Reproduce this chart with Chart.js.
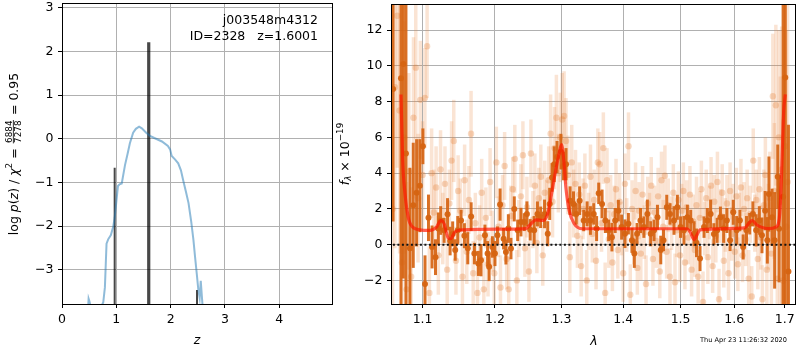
<!DOCTYPE html>
<html><head><meta charset="utf-8">
<script src="https://cdn.jsdelivr.net/npm/chart.js@4.4.0/dist/chart.umd.min.js"></script>
<style>
html,body{margin:0;padding:0;background:#fff;}
#wrap{position:relative;width:800px;height:350px;overflow:hidden;background:#fff;}
canvas{position:absolute;left:0;top:0;}
</style></head><body>
<div id="wrap"><canvas id="cL" width="800" height="350"></canvas><canvas id="cR" width="800" height="350"></canvas></div>
<script>
// ---------- Left panel: redshift PDF ----------
const zTicks = [0, 1, 2, 3, 4];
const logpTicks = [-3, -2, -1, 0, 1, 2, 3];
const pzZ = [0.40,0.475,0.49,0.505,0.52,0.54,0.70,0.73,0.76,0.79,0.805,0.82,0.85,0.90,0.945,0.97,1.00,1.03,1.06,1.10,1.16,1.21,1.25,1.31,1.36,1.42,1.47,1.55,1.62,1.70,1.84,1.95,1.99,2.02,2.08,2.14,2.19,2.23,2.28,2.33,2.38,2.42,2.45,2.48,2.51,2.535,2.555,2.575,2.59,2.62];
const pzLogP = [-5,-4.0,-3.66,-3.72,-3.80,-5,-5,-3.82,-3.74,-3.4,-2.9,-2.4,-2.3,-2.2,-2.0,-1.8,-1.45,-1.08,-1.04,-1.02,-0.6,-0.33,-0.1,0.14,0.23,0.28,0.24,0.14,0.07,0.02,-0.06,-0.16,-0.24,-0.39,-0.47,-0.56,-0.72,-0.94,-1.2,-1.47,-1.9,-2.31,-2.7,-3.07,-3.45,-3.64,-3.25,-3.6,-3.85,-5];
const spikeZ = [0.97, 1.597, 2.486];
const spikeTop = [-0.66, 2.21, -3.46];
const spikeWidth = [2, 3.2, 2];

// ---------- Right panel: spectrum ----------
const lamTicks = [1.1, 1.2, 1.3, 1.4, 1.5, 1.6, 1.7];
const fluxTicks = [-2, 0, 2, 4, 6, 8, 10, 12];
const modelLam = [1.0718,1.0740,1.0770,1.0813,1.0869,1.0964,1.1096,1.1185,1.1243,1.1288,1.1342,1.1379,1.1433,1.1547,1.2065,1.2457,1.2531,1.2607,1.2708,1.2784,1.2836,1.2898,1.2965,1.2999,1.3031,1.3068,1.3120,1.3199,1.3330,1.4095,1.5113,1.5175,1.5248,1.5295,1.5357,1.6206,1.6284,1.6348,1.6433,1.6531,1.6664,1.6830,1.6899,1.6931,1.6980,1.7013];
const modelFlux = [8.4,4.7,2.85,1.5,0.98,0.83,0.8,0.98,1.35,1.17,0.39,0.33,0.7,0.83,0.87,0.9,1.17,1.39,1.35,1.72,2.65,3.94,5.15,5.6,4.87,3.2,1.9,1.17,0.89,0.89,0.89,0.7,0.28,0.52,0.83,0.94,1.2,1.35,1.13,0.98,0.9,1.0,1.72,3.57,7.46,8.4];

const darkLam = [1.0616,1.0718,1.0748,1.0782,1.0834,1.0877,1.0921,1.0964,1.1004,1.1032,
1.1078,1.1126,1.1172,1.1210,1.1242,1.1288,1.1335,1.1370,1.1405,1.1440,
1.1475,1.1521,1.1567,1.1614,1.1661,1.1707,1.1763,1.1800,1.1856,1.1894,
1.1916,1.1963,1.2000,1.2036,1.2074,1.2125,1.2159,1.2195,1.2233,1.2282,
1.2332,1.2381,1.2430,1.2470,1.2519,1.2579,1.2629,1.2678,1.2737,1.2786,
1.2816,1.2852,1.2886,1.2930,1.2990,1.3030,1.3070,1.3134,1.3188,1.3232,
1.3286,1.3351,1.3406,1.3459,1.3513,1.3560,1.3594,1.3649,1.3703,1.3757,
1.3812,1.3866,1.3919,1.3974,1.4030,1.4088,1.4148,1.4189,1.4236,1.4295,
1.4353,1.4413,1.4471,1.4529,1.4589,1.4647,1.4695,1.4753,1.4811,1.4882,
1.4942,1.5000,1.5061,1.5123,1.5184,1.5245,1.5290,1.5355,1.5429,1.5491,
1.5552,1.5613,1.5675,1.5736,1.5797,1.5859,1.5920,1.5981,1.6046,1.6109,
1.6172,1.6237,1.6300,1.6363,1.6427,1.6490,1.6542,1.6605,1.6649,1.6681,
1.6744,1.6796,1.6859,1.6886,1.6968,1.7012,1.7077];
const darkFlux = [8.7,9.3,10.1,5.1,-0.2,2.2,2.9,3.3,5.5,-2.2,
1.5,-0.13,-0.7,0.9,1.35,0.8,1.7,0.2,0.6,-0.3,
0.8,1.35,0.5,-0.2,1.57,-0.5,-1.05,-0.87,0.52,-0.5,
-1.24,-0.13,-0.5,0.52,2.24,0.33,-0.41,0.9,-0.22,2.0,
0.8,1.26,1.26,1.72,0.83,0.8,1.72,1.53,1.72,0.61,
2.28,3.76,4.5,4.9,5.2,4.4,4.5,2.46,2.28,1.72,
2.46,1.35,1.72,1.35,1.72,0.9,2.87,2.28,1.35,0.8,
0.42,1.35,1.9,0.98,0.61,1.17,0.24,-0.5,0.61,1.35,
0.98,1.72,0.61,0.8,1.53,-0.3,0.24,2.09,1.72,1.35,
2.09,0.98,0.8,1.53,1.35,0.61,0.1,-0.78,0.98,1.35,
1.72,0.6,0.8,1.53,0.9,1.35,0.24,1.81,0.8,1.35,
-0.13,0.8,1.17,1.72,0.8,1.35,0.52,1.9,0.24,2.83,
1.53,0.24,3.8,0.89,2.68,9.35,-1.5];
const darkErr = [7.4,13,12,9,4.5,3.5,3.0,2.6,1.0,1.6,
1.3,1.2,1.0,0.9,0.8,0.7,0.9,0.8,0.7,0.6,
0.8,0.6,0.7,0.9,0.8,0.6,0.7,0.9,0.6,0.7,
0.8,0.6,0.7,0.5,0.9,0.6,0.7,0.8,0.6,0.7,
0.6,0.8,0.5,0.7,0.6,0.8,0.7,0.6,0.8,0.7,
0.9,0.8,1.0,0.9,1.0,0.8,0.9,0.8,0.7,0.6,
0.8,0.6,0.7,0.8,0.6,0.7,0.6,0.8,0.7,0.6,
0.8,0.7,0.6,0.7,0.8,0.6,0.7,0.8,0.6,0.7,
0.6,0.8,0.7,0.6,0.7,0.8,0.6,0.7,0.6,0.8,
0.7,0.6,0.8,0.7,0.6,0.7,0.8,0.7,0.6,0.7,
0.8,0.6,0.7,0.6,0.8,0.7,0.6,0.7,0.8,0.6,
0.7,0.8,0.6,0.7,0.9,0.8,1.0,1.1,1.3,2.1,
1.6,2.7,1.8,3.0,15,14,8.2];

const faintLam = [1.061,1.064,1.067,1.070,1.073,1.076,1.079,1.082,1.085,1.088,
1.091,1.094,1.097,1.100,1.103,1.106,1.109,1.112,1.115,1.118,
1.121,1.124,1.127,1.130,1.133,1.136,1.139,1.142,1.145,1.148,
1.151,1.154,1.157,1.160,1.163,1.166,1.169,1.172,1.175,1.178,
1.181,1.184,1.187,1.190,1.193,1.196,1.199,1.202,1.205,1.208,
1.211,1.214,1.217,1.220,1.223,1.226,1.229,1.232,1.235,1.238,
1.241,1.244,1.247,1.250,1.253,1.256,1.259,1.262,1.265,1.268,
1.271,1.274,1.277,1.280,1.283,1.286,1.289,1.292,1.295,1.298,
1.301,1.304,1.307,1.310,1.313,1.316,1.319,1.322,1.325,1.328,
1.331,1.334,1.337,1.340,1.343,1.346,1.349,1.352,1.355,1.358,
1.361,1.364,1.367,1.370,1.373,1.376,1.379,1.382,1.385,1.388,
1.391,1.394,1.397,1.400,1.403,1.406,1.409,1.412,1.415,1.418,
1.421,1.424,1.427,1.430,1.433,1.436,1.439,1.442,1.445,1.448,
1.451,1.454,1.457,1.460,1.463,1.466,1.469,1.472,1.475,1.478,
1.481,1.484,1.487,1.490,1.493,1.496,1.499,1.502,1.505,1.508,
1.511,1.514,1.517,1.520,1.523,1.526,1.529,1.532,1.535,1.538,
1.541,1.544,1.547,1.550,1.553,1.556,1.559,1.562,1.565,1.568,
1.571,1.574,1.577,1.580,1.583,1.586,1.589,1.592,1.595,1.598,
1.601,1.604,1.607,1.610,1.613,1.616,1.619,1.622,1.625,1.628,
1.631,1.634,1.637,1.640,1.643,1.646,1.649,1.652,1.655,1.658,
1.661,1.664,1.667,1.670,1.673,1.676,1.679,1.682,1.685,1.688,
1.691,1.694,1.697,1.700,1.703,1.706];
const faintFlux = [2.0,8.8,12.8,7.5,-1.0,6.0,-2.5,4.1,-1.8,7.1,
9.9,2.6,8.1,3.9,8.2,11.1,-2.7,4.0,1.8,3.2,
-0.6,4.2,0.9,3.4,-1.4,2.3,4.7,5.8,-0.9,3.0,
1.9,-1.8,3.6,-0.4,2.5,6.2,-1.6,1.2,-2.7,0.4,
2.9,-2.5,1.5,-1.1,3.5,0.2,-1.6,4.6,1.0,-2.4,
2.2,4.4,-0.8,-2.5,1.6,3.1,4.8,-2.0,0.9,2.7,
5.0,-0.2,2.1,-1.5,5.1,1.4,3.3,0.1,2.6,3.8,
-0.6,2.9,1.8,3.6,6.2,2.4,5.4,7.1,4.0,6.0,
7.0,7.2,5.8,3.9,-0.7,4.6,2.3,3.4,0.5,2.8,
-1.2,2.0,3.3,-2.0,1.3,3.8,0.6,2.5,-0.9,4.6,
4.5,1.2,5.4,-2.7,3.6,0.3,2.2,-1.0,1.7,3.1,
-0.3,2.4,0.9,-1.6,3.4,1.1,5.5,-2.8,2.0,0.4,
3.0,-1.3,1.9,-0.5,2.8,0.7,-2.2,2.3,1.4,3.3,
-0.8,1.8,0.2,2.7,-1.5,3.6,1.0,3.85,-0.4,2.2,
-1.8,1.2,2.9,-2.1,0.8,2.5,-0.6,1.9,3.0,-1.0,
2.1,0.4,2.8,-1.4,1.3,-0.3,2.2,-1.8,1.5,3.1,
-3.2,0.9,2.6,-0.7,1.8,3.3,-1.2,2.4,0.5,3.5,
-3.05,1.6,2.9,-0.9,1.1,2.3,-1.6,3.0,0.6,1.9,
-0.4,2.7,-1.1,1.4,3.2,-0.6,2.0,0.3,2.6,-1.9,
1.7,-2.9,4.7,1.2,2.5,-0.8,3.1,0.4,-3.05,2.2,
3.9,-1.4,1.0,2.6,-0.5,8.3,3.0,7.8,-1.9,6.0,
2.4,4.2,-2.0,5.5,1.0,3.5];
const faintErr = [10,9,8.5,8,7,6.5,6,5.5,5,4.5,
4,3.6,3.3,3.0,2.8,2.9,2.6,2.5,2.4,2.3,
2.2,2.2,2.0,2.1,2.0,1.9,2.2,2.3,1.9,2.0,
1.8,1.9,2.0,1.8,1.9,2.4,1.8,1.7,1.9,1.8,
1.9,1.8,1.7,1.8,1.9,1.7,1.8,2.0,1.7,1.8,
1.7,1.9,1.7,1.8,1.7,1.8,1.9,1.7,1.6,1.8,
1.9,1.6,1.7,1.7,1.9,1.6,1.8,1.7,1.7,1.8,
1.7,1.8,1.8,1.9,2.2,2.0,2.3,2.4,2.2,2.5,
2.6,2.5,2.4,2.2,2.0,2.1,1.9,1.9,1.8,1.8,
1.7,1.7,1.8,1.7,1.6,1.8,1.6,1.7,1.6,1.9,
1.8,1.6,2.0,1.7,1.8,1.6,1.7,1.6,1.6,1.7,
1.6,1.6,1.5,1.6,1.7,1.5,1.9,1.7,1.6,1.5,
1.6,1.5,1.6,1.5,1.6,1.5,1.6,1.5,1.5,1.6,
1.5,1.5,1.5,1.6,1.5,1.6,1.5,1.7,1.5,1.5,
1.6,1.5,1.6,1.6,1.5,1.6,1.5,1.5,1.6,1.5,
1.5,1.5,1.6,1.5,1.5,1.5,1.6,1.5,1.5,1.6,
1.7,1.5,1.6,1.5,1.5,1.6,1.5,1.5,1.5,1.7,
1.7,1.5,1.6,1.5,1.5,1.6,1.5,1.6,1.5,1.5,
1.5,1.6,1.5,1.5,1.6,1.5,1.5,1.5,1.6,1.6,
1.6,1.7,1.8,1.6,1.7,1.7,1.8,1.8,1.9,2.0,
2.1,2.2,2.4,2.6,2.9,3.5,3.8,4.5,5,6,
7,8,9,10,11,12];

// ---------- shared helpers ----------
Chart.defaults.font.family = '"DejaVu Sans", sans-serif';
Chart.defaults.font.size = 12.5;
Chart.defaults.color = '#000';
const FONT = '"DejaVu Sans", sans-serif';
const minusFmt = v => (v < 0 ? '\u2212' + Math.abs(v) : String(v));

const errorBarPlugin = {
  id: 'errbars',
  beforeDatasetDraw(chart, args) {
    const ds = chart.data.datasets[args.index];
    if (!ds.errs) return;
    const xs = chart.scales.x, ys = chart.scales.y, ca = chart.chartArea, ctx = chart.ctx;
    ctx.save();
    ctx.beginPath(); ctx.rect(ca.left, ca.top, ca.right - ca.left, ca.bottom - ca.top); ctx.clip();
    ctx.strokeStyle = ds.errColor; ctx.lineWidth = ds.errWidth; ctx.lineCap = 'butt';
    ds.data.forEach((p, i) => {
      const e = ds.errs[i]; if (e === undefined) return;
      const px = xs.getPixelForValue(p.x);
      ctx.beginPath();
      ctx.moveTo(px, ys.getPixelForValue(p.y - e));
      ctx.lineTo(px, ys.getPixelForValue(p.y + e));
      ctx.stroke();
    });
    ctx.restore();
  }
};
const framePlugin = {
  id: 'frame',
  afterDraw(chart) {
    const ca = chart.chartArea, ctx = chart.ctx;
    ctx.save(); ctx.strokeStyle = '#000'; ctx.lineWidth = 1;
    ctx.strokeRect(Math.round(ca.left) + 0.5, Math.round(ca.top) + 0.5, Math.round(ca.right - ca.left) - 1, Math.round(ca.bottom - ca.top));
    ctx.restore();
  }
};
function drawSegs(ctx, segs, cx, cy, rotate) {
  ctx.save(); ctx.translate(cx, cy); if (rotate) ctx.rotate(-Math.PI / 2);
  let total = 0;
  segs.forEach(s => {
    ctx.font = s.font;
    s.w = s.frac ? Math.max(ctx.measureText(s.num).width, ctx.measureText(s.den).width) + 3 : ctx.measureText(s.t).width;
    total += s.w;
  });
  let x = -total / 2;
  ctx.fillStyle = '#000'; ctx.textBaseline = 'alphabetic'; ctx.textAlign = 'left';
  segs.forEach(s => {
    ctx.font = s.font;
    const dy = (s.dy || 0) + 4.5;
    if (s.frac) {
      const nw = ctx.measureText(s.num).width, dw = ctx.measureText(s.den).width;
      ctx.fillText(s.num, x + (s.w - nw) / 2, dy - 5.8);
      ctx.fillText(s.den, x + (s.w - dw) / 2, dy + 3.6);
      ctx.fillRect(x + 1, dy - 4.6, s.w - 2, 0.8);
    } else {
      ctx.fillText(s.t, x, dy);
    }
    x += s.w;
  });
  ctx.restore();
}
const N = '12.5px ' + FONT, I = 'italic 12.5px ' + FONT, S = '8.8px ' + FONT, SI = 'italic 8.8px ' + FONT;

function fixBox(w, h) {
  return function (scale) {
    if (w !== null) scale.width = w;
    if (h !== null) scale.height = h;
    scale.paddingTop = 0; scale.paddingBottom = 0; scale.paddingLeft = 0; scale.paddingRight = 0;
  };
}

// ---------- Left chart ----------
const leftTexts = {
  id: 'leftTexts',
  afterDraw(chart) {
    const ctx = chart.ctx;
    ctx.save();
    ctx.fillStyle = '#000'; ctx.font = N; ctx.textAlign = 'right'; ctx.textBaseline = 'alphabetic';
    ctx.fillText('j003548m4312', 318, 24);
    ctx.fillText('ID=2328   z=1.6001', 318, 40);
    ctx.textAlign = 'center'; ctx.font = I;
    ctx.fillText('z', 197, 344);
    ctx.restore();
    drawSegs(ctx, [
      {t: 'log ', font: N}, {t: 'p', font: I}, {t: '(', font: N}, {t: 'z', font: I}, {t: ')', font: N},
      {t: ' / ', font: N}, {t: '\u03c7', font: I}, {t: '2', font: S, dy: -5.5}, {t: ' = ', font: N},
      {frac: true, num: '6884', den: '7278', font: S}, {t: ' = 0.95', font: N}
    ], 13, 154, true);
  }
};

const leftDatasets = [{
  data: pzZ.map((z, i) => ({x: z, y: pzLogP[i]})),
  borderColor: 'rgba(31,119,180,0.5)', borderWidth: 2, pointRadius: 0, tension: 0, fill: false
}];
spikeZ.forEach((z, i) => {
  leftDatasets.push({
    data: [{x: z, y: -10}, {x: z, y: spikeTop[i]}],
    borderColor: 'rgba(0,0,0,0.72)', borderWidth: spikeWidth[i], pointRadius: 0, borderCapStyle: 'butt', fill: false
  });
});

new Chart(document.getElementById('cL'), {
  type: 'line',
  data: {datasets: leftDatasets},
  options: {
    responsive: false, animation: false, devicePixelRatio: 1, events: [],
    layout: {padding: {left: 0, top: 3, right: 467, bottom: 0}},
    plugins: {legend: {display: false}, tooltip: {enabled: false}},
    scales: {
      x: {
        type: 'linear', min: 0, max: 4.99,
        afterFit: fixBox(null, 46),
        afterBuildTicks: s => { s.ticks = zTicks.map(v => ({value: v})); },
        ticks: {callback: v => String(v), padding: 4, maxRotation: 0, font: {size: 12.5}},
        grid: {color: '#b0b0b0', lineWidth: 1, tickColor: '#000', tickLength: 4, drawTicks: true},
        border: {display: false}
      },
      y: {
        type: 'linear', min: -3.78, max: 3.11,
        afterFit: fixBox(62, null),
        afterBuildTicks: s => { s.ticks = logpTicks.map(v => ({value: v})); },
        ticks: {callback: minusFmt, padding: 4.5, font: {size: 12.5}},
        grid: {color: '#b0b0b0', lineWidth: 1, tickColor: '#000', tickLength: 4, drawTicks: true},
        border: {display: false}
      }
    }
  },
  plugins: [framePlugin, leftTexts]
});

// ---------- Right chart ----------
const rightTexts = {
  id: 'rightTexts',
  afterDraw(chart) {
    const ctx = chart.ctx;
    ctx.save();
    ctx.fillStyle = '#000'; ctx.textAlign = 'center'; ctx.textBaseline = 'alphabetic';
    ctx.font = I; ctx.fillText('\u03bb', 594, 345);
    ctx.font = '6.6px ' + FONT; ctx.textAlign = 'right';
    ctx.fillText('Thu Apr 23 11:26:32 2020', 787, 342);
    ctx.restore();
    drawSegs(ctx, [
      {t: 'f', font: I}, {t: '\u03bb', font: SI, dy: 2.5}, {t: ' \u00d7 10', font: N}, {t: '\u221219', font: S, dy: -5.5}
    ], 344, 154, true);
  }
};

const rightDatasets = [
  { // model
    data: modelLam.map((l, i) => ({x: l, y: modelFlux[i]})),
    borderColor: 'rgba(255,20,0,0.68)', borderWidth: 3.2, pointRadius: 0,
    cubicInterpolationMode: 'monotone', fill: false
  },
  { // zero line
    data: [{x: 1.05, y: 0}, {x: 1.73, y: 0}],
    borderColor: '#111', borderWidth: 2, borderDash: [2, 2.5], pointRadius: 0, fill: false
  },
  { // combined spectrum (dark)
    data: darkLam.map((l, i) => ({x: l, y: darkFlux[i]})),
    errs: darkErr, errColor: 'rgba(214,100,18,0.92)', errWidth: 3,
    showLine: false, pointRadius: 3, pointBorderWidth: 0,
    pointBackgroundColor: 'rgba(214,100,18,0.95)', borderColor: 'rgba(0,0,0,0)'
  },
  { // individual exposures (faint)
    data: faintLam.map((l, i) => ({x: l, y: faintFlux[i]})),
    errs: faintErr, errColor: 'rgba(232,130,60,0.22)', errWidth: 3.5,
    showLine: false, pointRadius: 3.2, pointBorderWidth: 0,
    pointBackgroundColor: 'rgba(228,120,40,0.28)', borderColor: 'rgba(0,0,0,0)'
  }
];

new Chart(document.getElementById('cR'), {
  type: 'line',
  data: {datasets: rightDatasets},
  options: {
    responsive: false, animation: false, devicePixelRatio: 1, events: [],
    layout: {padding: {left: 330, top: 3, right: 2, bottom: 0}},
    plugins: {legend: {display: false}, tooltip: {enabled: false}},
    scales: {
      x: {
        type: 'logarithmic', min: 1.059, max: 1.7233,
        afterFit: fixBox(null, 46),
        afterBuildTicks: s => { s.ticks = lamTicks.map(v => ({value: v})); },
        ticks: {callback: v => Number(v).toFixed(1), padding: 4, maxRotation: 0, autoSkip: false, font: {size: 12.5}},
        grid: {color: '#b0b0b0', lineWidth: 1, tickColor: '#000', tickLength: 4, drawTicks: true},
        border: {display: false}
      },
      y: {
        type: 'linear', min: -3.32, max: 13.46,
        afterFit: fixBox(61, null),
        afterBuildTicks: s => { s.ticks = fluxTicks.map(v => ({value: v})); },
        ticks: {callback: minusFmt, padding: 4.5, font: {size: 12.5}},
        grid: {color: '#b0b0b0', lineWidth: 1, tickColor: '#000', tickLength: 4, drawTicks: true},
        border: {display: false}
      }
    }
  },
  plugins: [errorBarPlugin, framePlugin, rightTexts]
});
</script></body></html>
